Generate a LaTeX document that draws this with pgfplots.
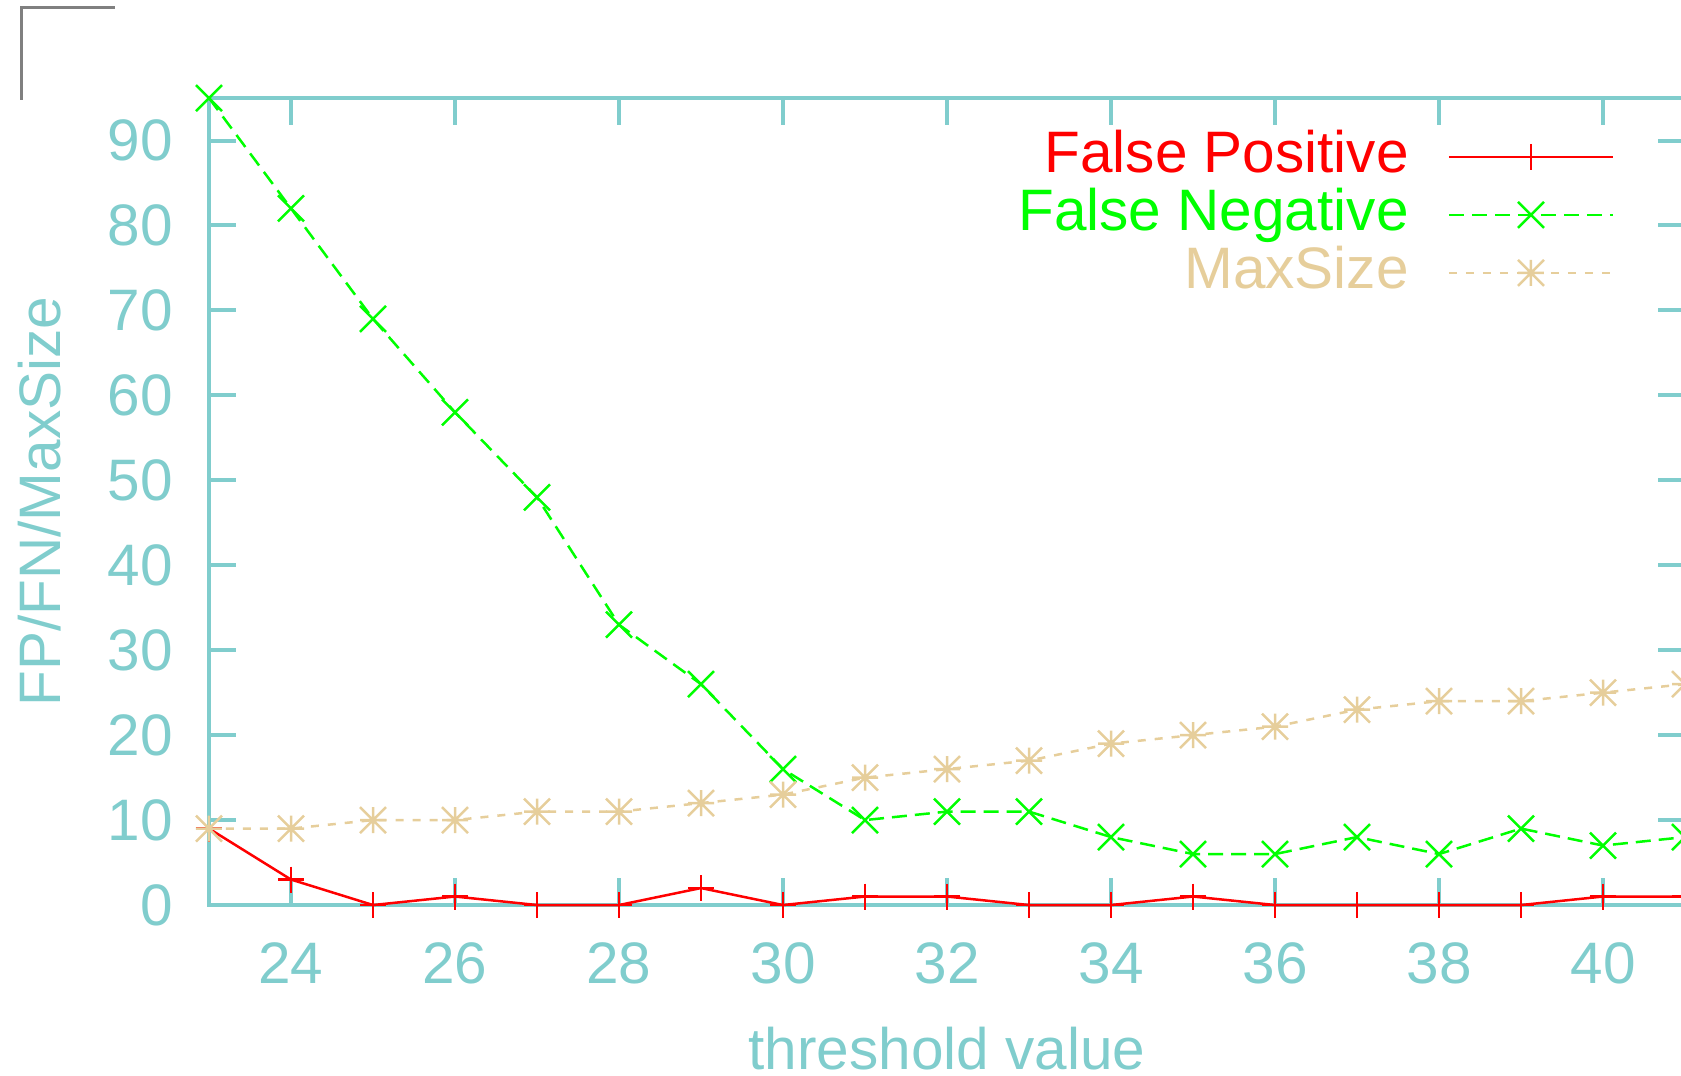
\documentclass[border=0pt]{standalone}
\usepackage{fontspec}
\setmainfont{Liberation Sans}
\usepackage{pgfplots}
\pgfplotsset{compat=1.18}
\definecolor{axc}{RGB}{128,205,205}
\definecolor{tancol}{RGB}{230,206,155}
\definecolor{gpgreen}{RGB}{0,255,0}
\definecolor{gpred}{RGB}{255,0,0}
\pgfdeclareplotmark{gpx}{%
  \pgfpathmoveto{\pgfqpoint{-\pgfplotmarksize}{-\pgfplotmarksize}}%
  \pgfpathlineto{\pgfqpoint{\pgfplotmarksize}{\pgfplotmarksize}}%
  \pgfpathmoveto{\pgfqpoint{-\pgfplotmarksize}{\pgfplotmarksize}}%
  \pgfpathlineto{\pgfqpoint{\pgfplotmarksize}{-\pgfplotmarksize}}%
  \pgfusepathqstroke}
\pgfdeclareplotmark{gpstar}{%
  \pgfpathmoveto{\pgfqpoint{-\pgfplotmarksize}{-\pgfplotmarksize}}%
  \pgfpathlineto{\pgfqpoint{\pgfplotmarksize}{\pgfplotmarksize}}%
  \pgfpathmoveto{\pgfqpoint{-\pgfplotmarksize}{\pgfplotmarksize}}%
  \pgfpathlineto{\pgfqpoint{\pgfplotmarksize}{-\pgfplotmarksize}}%
  \pgfpathmoveto{\pgfqpoint{-\pgfplotmarksize}{0pt}}%
  \pgfpathlineto{\pgfqpoint{\pgfplotmarksize}{0pt}}%
  \pgfpathmoveto{\pgfqpoint{0pt}{-\pgfplotmarksize}}%
  \pgfpathlineto{\pgfqpoint{0pt}{\pgfplotmarksize}}%
  \pgfusepathqstroke}
\pgfplotstableread{
x fp fn ms
23 9 95 9
24 3 82 9
25 0 69 10
26 1 58 10
27 0 48 11
28 0 33 11
29 2 26 12
30 0 16 13
31 1 10 15
32 1 11 16
33 0 11 17
34 0 8 19
35 1 6 20
36 0 6 21
37 0 8 23
38 0 6 24
39 0 9 24
40 1 7 25
41 1 8 26
}\datatable
\begin{document}
\begin{tikzpicture}[font=\fontsize{11.7}{14}\selectfont]
\useasboundingbox (-41.8pt,-34pt) rectangle (294.4pt,181pt);
\clip (-41.8pt,-34pt) rectangle (294.4pt,181pt);
\draw[gray, line width=0.45pt] (-37.5pt,161.1pt) -- (-37.5pt,179.5pt) -- (-18.9pt,179.5pt);
\begin{axis}[
  at={(0pt,0pt)}, anchor=south west,
  scale only axis, width=295.2pt, height=161.4pt,
  xmin=23, xmax=41, ymin=0, ymax=95,
  xtick={24,26,...,40}, ytick={0,10,...,90},
  tick align=inside, major tick length=5.4pt,
  axis line style={draw=axc, line width=0.8pt},
  every tick/.style={draw=axc, line width=0.8pt},
  tick label style={text=axc, inner sep=0pt},
  /pgf/number format/assume math mode=true,
  yticklabel style={anchor=east, xshift=-7.0pt},
  xticklabel style={anchor=north, yshift=-7.3pt},
  xlabel={threshold value}, ylabel={FP/FN/MaxSize},
  label style={text=axc},
  xlabel style={at={(axis description cs:0.5,-0.1784)}, anchor=center},
  ylabel style={at={(axis description cs:-0.1145,0.5)}, anchor=center},
  clip=false,
  legend style={draw=none, fill=none, at={(axis description cs:0.952,0.963)}, anchor=north east,
    inner sep=0pt, outer sep=0pt, row sep=0pt, column sep=7.8pt,
    nodes={inner sep=0pt, text height=9pt, text depth=2.6pt}},
  legend cell align=right,
  legend plot pos=right,
  legend image code/.code={\draw[mark repeat=2,mark phase=2,#1] plot coordinates {(0pt,0pt)(16.4pt,0pt)(32.8pt,0pt)};},
]
\addplot[color=gpred, line width=0.5pt, mark=+, mark size=2.6pt, mark options={solid}] table[x=x,y=fp] {\datatable};
\addlegendentry{\textcolor{gpred}{False Positive}}
\addplot[color=gpgreen, line width=0.5pt, dash pattern=on 3pt off 1.6pt, mark=gpx, mark size=2.6pt, mark options={solid}] table[x=x,y=fn] {\datatable};
\addlegendentry{\textcolor{gpgreen}{False Negative}}
\addplot[color=tancol, line width=0.5pt, dash pattern=on 1.6pt off 1.8pt, mark=gpstar, mark size=2.6pt, mark options={solid}] table[x=x,y=ms] {\datatable};
\addlegendentry{\textcolor{tancol}{MaxSize}}
\end{axis}
\end{tikzpicture}
\end{document}
